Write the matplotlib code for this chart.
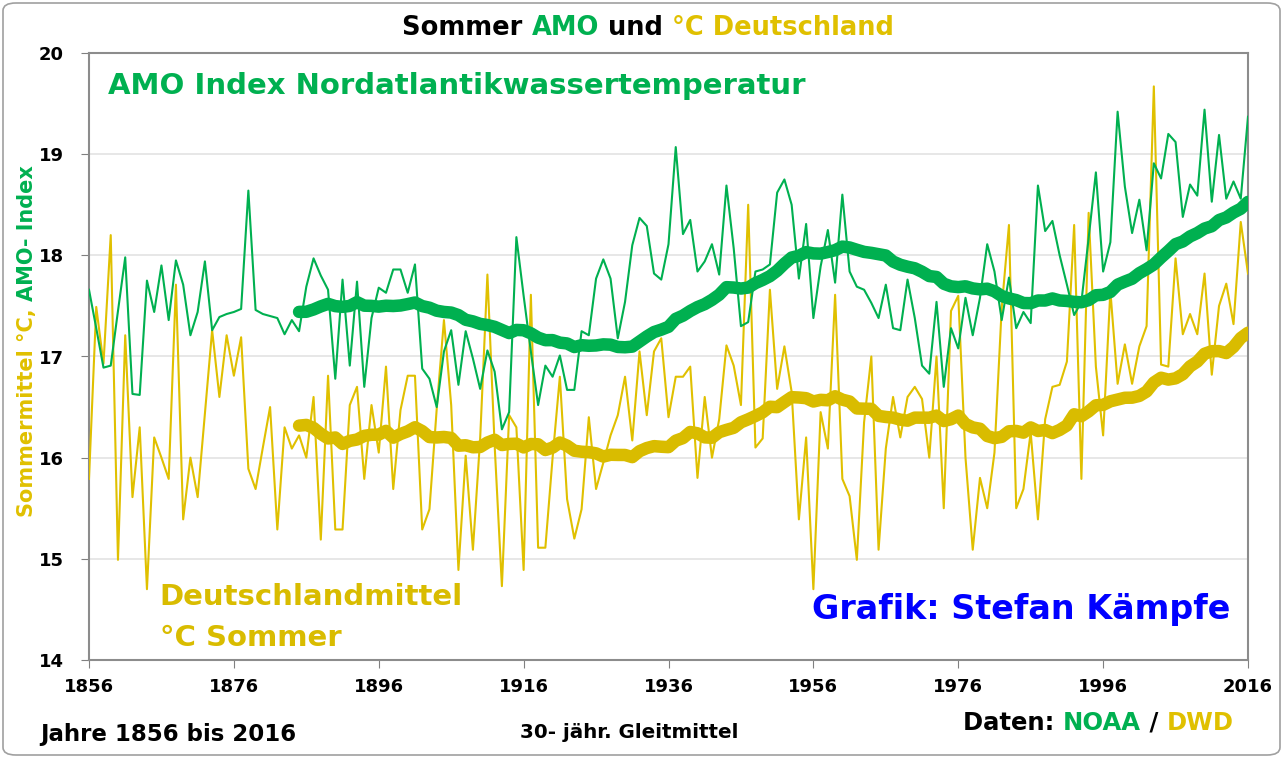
import numpy as np
import pandas as pd
import matplotlib
matplotlib.use("Agg")
from matplotlib import pyplot as plt
from matplotlib.patches import FancyBboxPatch

plt.rcParams['font.family'] = ['DejaVu Sans']

GREEN = "#00B050"
YELLOW = "#E0C000"
YELLOW_DARK = "#D9BC00"
BLUE = "#0000FF"

years = np.arange(1856, 2017)

# AMO index (summer)
amo = [
    17.66, 17.28, 16.89, 16.91, 17.45, 17.98, 16.63, 16.62, 17.75, 17.44,
    17.90, 17.36, 17.95, 17.71, 17.21, 17.44, 17.94, 17.26, 17.39, 17.42,
    17.44, 17.47, 18.64, 17.46, 17.42, 17.40, 17.38, 17.22, 17.36, 17.25,
    17.69, 17.97, 17.80, 17.66, 16.78, 17.76, 16.91, 17.74, 16.70, 17.38,
    17.68, 17.63, 17.86, 17.86, 17.63, 17.91, 16.88, 16.78, 16.50, 17.05,
    17.26, 16.72, 17.25, 16.98, 16.68, 17.06, 16.85, 16.28, 16.45, 18.18,
    17.60, 17.05, 16.52, 16.91, 16.80, 17.01, 16.67, 16.67, 17.25, 17.21,
    17.77, 17.96, 17.77, 17.18, 17.54, 18.10, 18.37, 18.29, 17.82, 17.76,
    18.11, 19.07, 18.21, 18.35, 17.84, 17.94, 18.11, 17.81, 18.69, 18.07,
    17.30, 17.34, 17.84, 17.86, 17.91, 18.62, 18.75, 18.50, 17.77, 18.31,
    17.38, 17.89, 18.25, 17.73, 18.60, 17.84, 17.69, 17.66, 17.53, 17.38,
    17.71, 17.28, 17.26, 17.76, 17.38, 16.91, 16.83, 17.54, 16.70, 17.28,
    17.08, 17.58, 17.21, 17.58, 18.11, 17.84, 17.36, 17.78, 17.28, 17.44,
    17.33, 18.69, 18.24, 18.34, 18.00, 17.71, 17.41, 17.54, 18.17, 18.82,
    17.84, 18.13, 19.42, 18.68, 18.22, 18.55, 18.05, 18.91, 18.76, 19.20,
    19.12, 18.38, 18.70, 18.59, 19.44, 18.53, 19.19, 18.56, 18.73, 18.56,
    19.37,
]

# Germany summer mean temperature (DWD)
dwd = [
    15.79, 17.49, 16.93, 18.20, 14.99, 17.21, 15.61, 16.30, 14.70, 16.20,
    16.00, 15.79, 17.71, 15.39, 16.00, 15.61, 16.43, 17.26, 16.60, 17.21,
    16.81, 17.19, 15.89, 15.69, 16.10, 16.50, 15.29, 16.30, 16.09, 16.22,
    16.00, 16.60, 15.19, 16.81, 15.29, 15.29, 16.52, 16.70, 15.79, 16.52,
    16.05, 16.90, 15.69, 16.47, 16.81, 16.81, 15.29, 15.49, 16.48, 17.36,
    16.52, 14.89, 16.02, 15.09, 16.19, 17.81, 16.12, 14.73, 16.42, 16.30,
    14.89, 17.61, 15.11, 15.11, 16.00, 16.80, 15.59, 15.20, 15.49, 16.40,
    15.69, 15.95, 16.22, 16.42, 16.80, 16.17, 17.05, 16.42, 17.05, 17.18,
    16.40, 16.80, 16.80, 16.90, 15.80, 16.60, 16.00, 16.38, 17.11, 16.91,
    16.52, 18.50, 16.10, 16.19, 17.66, 16.68, 17.10, 16.65, 15.39, 16.20,
    14.70, 16.45, 16.09, 17.61, 15.79, 15.62, 14.99, 16.35, 17.00, 15.09,
    16.09, 16.60, 16.20, 16.60, 16.70, 16.58, 16.00, 17.00, 15.50, 17.45,
    17.60, 16.00, 15.09, 15.80, 15.50, 16.05, 17.48, 18.30, 15.50, 15.69,
    16.25, 15.39, 16.38, 16.70, 16.72, 16.95, 18.30, 15.79, 18.42, 16.90,
    16.22, 17.65, 16.73, 17.12, 16.73, 17.10, 17.30, 19.67, 16.92, 16.90,
    17.97, 17.22, 17.42, 17.22, 17.82, 16.82, 17.50, 17.72, 17.32, 18.33,
    17.82,
]

x_ticks = np.arange(1856, 2017, 20)
y_ticks = np.arange(14, 21, 1)
window = 30

df = pd.DataFrame({"year": years, "amo": amo, "dwd": dwd}).set_index("year")
amo_ma = df["amo"].rolling(window).mean()
dwd_ma = df["dwd"].rolling(window).mean()


def colored_text(fig, x, y, pieces, size, weight="bold", ha="center", rotation=0):
    """Draw text pieces in different colours next to each other (figure coords)."""
    renderer = fig.canvas.get_renderer()
    texts = []
    for s, c in pieces:
        t = fig.text(0, 0, s, color=c, fontsize=size, fontweight=weight,
                     rotation=rotation, va="center", ha="left" if rotation == 0 else "center",
                     rotation_mode="anchor")
        texts.append(t)
    W, H = fig.get_size_inches() * fig.dpi
    if rotation == 0:
        widths = [t.get_window_extent(renderer).width / W for t in texts]
        total = sum(widths)
        start = x - total / 2 if ha == "center" else x
        for t, w in zip(texts, widths):
            t.set_position((start, y))
            start += w
    else:
        heights = [t.get_window_extent(renderer).height / H for t in texts]
        total = sum(heights)
        start = y - total / 2
        for t, h in zip(texts, heights):
            t.set_position((x, start + h / 2))
            t.set_ha("center")
            start += h
    return texts


fig = plt.figure(figsize=(12.83, 7.58), dpi=100)
W, H = 1283, 758
ax = fig.add_axes([89 / W, 1 - 660 / H, (1248 - 89) / W, (660 - 53) / H])

ax.plot(years, df["dwd"], color=YELLOW, lw=1.5, zorder=3)
ax.plot(years, df["amo"], color=GREEN, lw=1.5, zorder=3)
ax.plot(years, dwd_ma, color=YELLOW_DARK, lw=9, solid_capstyle="round", zorder=4)
ax.plot(years, amo_ma, color=GREEN, lw=9, solid_capstyle="round", zorder=4)

ax.set_xlim(1856, 2016)
ax.set_ylim(14, 20)
ax.set_xticks(x_ticks)
ax.set_yticks(y_ticks)
ax.tick_params(axis="both", labelsize=13, length=6, color="#808080")
ax.tick_params(axis="y", pad=12)
ax.tick_params(axis="x", pad=7)
for lab in ax.get_xticklabels() + ax.get_yticklabels():
    lab.set_fontweight("bold")
ax.grid(axis="y", color="#E3E3E3", lw=1.2)
ax.set_axisbelow(True)
for sp in ax.spines.values():
    sp.set_color("#8C8C8C")
    sp.set_linewidth(1.5)

# texts inside the plot
ax.text(0.016, 0.945, "AMO Index Nordatlantikwassertemperatur", transform=ax.transAxes,
        color=GREEN, fontsize=21, fontweight="bold", va="center")
ax.text(0.061, 0.103, "Deutschlandmittel", transform=ax.transAxes,
        color=YELLOW_DARK, fontsize=21, fontweight="bold", va="center")
ax.text(0.061, 0.037, "°C Sommer", transform=ax.transAxes,
        color=YELLOW_DARK, fontsize=21, fontweight="bold", va="center")
ax.text(0.9845, 0.083, "Grafik: Stefan Kämpfe", transform=ax.transAxes,
        color=BLUE, fontsize=24, fontweight="bold", va="center", ha="right")

fig.canvas.draw()
colored_text(fig, 648 / W, 1 - 28 / H,
             [("Sommer ", "black"), ("AMO", GREEN), (" und ", "black"),
              ("°C Deutschland", YELLOW)], size=18.5)
colored_text(fig, 27 / W, 1 - 341 / H,
             [("Sommermittel °C, ", YELLOW), ("AMO- Index", GREEN)],
             size=15, weight="bold", rotation=90)

fig.text(40 / W, 1 - 735 / H, "Jahre 1856 bis 2016", fontsize=16.5, fontweight="bold",
         va="center", ha="left")
fig.text(629 / W, 1 - 733 / H, "30- jähr. Gleitmittel", fontsize=14.3, fontweight="bold",
         va="center", ha="center")
colored_text(fig, 963 / W, 1 - 723 / H,
             [("Daten: ", "black"), ("NOAA", GREEN), (" / ", "black"), ("DWD", YELLOW)],
             size=17.5, ha="left")

# outer frame of the picture
frame = FancyBboxPatch((3 / W, 3 / H), 1 - 6 / W, 1 - 6 / H,
                       boxstyle="round,pad=0,rounding_size=0.01",
                       transform=fig.transFigure, fill=False, edgecolor="#A0A0A0", lw=1.2)
fig.patches.append(frame)

fig.savefig("out.png", dpi=100)
